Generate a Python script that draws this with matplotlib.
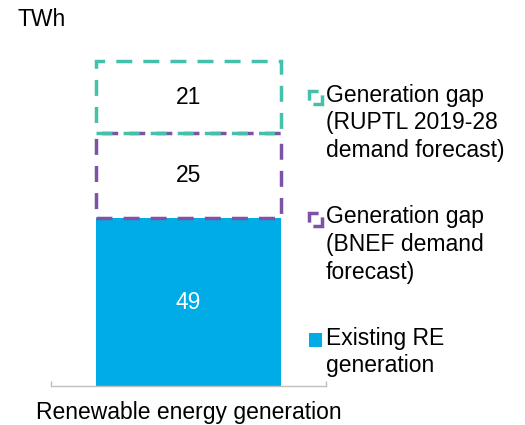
import matplotlib
matplotlib.use("Agg")
import matplotlib.pyplot as plt
from matplotlib.patches import Rectangle

plt.rcParams['font.family'] = ['Liberation Sans', 'DejaVu Sans']
plt.rcParams['lines.scale_dashes'] = False

category = "Renewable energy generation"
existing = 49
gap_bnef = 25
gap_ruptl = 21
unit = "TWh"

legend_labels = [
    "Generation gap\n(RUPTL 2019-28\ndemand forecast)",
    "Generation gap\n(BNEF demand\nforecast)",
    "Existing RE\ngeneration",
]

blue = '#00ACE6'
teal = '#45C1AB'
purple = '#7E52A7'
fs = 16.5
W, H = 525, 425

fig = plt.figure(figsize=(W / 100, H / 100), dpi=100)
ax = fig.add_axes([51 / W, (H - 386) / H, 275 / W, 342 / H])

x = [0]
bw = 0.673
dash = (0, (11.5, 8))
ax.bar(x, [existing], width=bw, color=blue, zorder=2)
ax.bar(x, [gap_bnef], bottom=[existing], width=bw, facecolor='none',
       edgecolor=purple, linewidth=2.5, linestyle=dash, zorder=3)
ax.bar(x, [gap_ruptl], bottom=[existing + gap_bnef], width=bw, facecolor='none',
       edgecolor=teal, linewidth=2.5, linestyle=dash, zorder=4)

ax.text(0, existing / 2, str(existing), ha='center', va='center', color='white', fontsize=fs)
ax.text(0, existing + gap_bnef / 2, str(gap_bnef), ha='center', va='center', color='black', fontsize=fs)
ax.text(0, existing + gap_bnef + gap_ruptl / 2, str(gap_ruptl), ha='center', va='center',
        color='black', fontsize=fs)

ax.set_xlim(-0.5, 0.5)
ax.set_ylim(0, 100)
for s in ['top', 'right', 'left']:
    ax.spines[s].set_visible(False)
ax.spines['bottom'].set_color('#BFBFBF')
ax.spines['bottom'].set_linewidth(1)
ax.set_yticks([])
ax.set_xticks([-0.5, 0.5])
ax.set_xticklabels([])
ax.tick_params(axis='x', which='major', direction='in', length=3.6, color='#BFBFBF', width=1)
ax.set_xticks([0], minor=True)
ax.set_xticklabels([category], minor=True, fontsize=fs)
ax.tick_params(axis='x', which='minor', length=0, pad=10.5)

fig.text(18 / W, 1 - 20 / H, unit, ha='left', va='center', fontsize=fs)

# legend
centers = [97.5, 219.5, 340]
text_mid = [123, 244.5, 352]
colors = [teal, purple, blue]
sq = 13
side_pt = sq * 0.72
corner_dash = (1.7 * side_pt, (1.4 * side_pt, 0.6 * side_pt))
for i, lab in enumerate(legend_labels):
    cx, cy = 315, centers[i]
    if i < 2:
        p = Rectangle(((cx - sq / 2) / W, 1 - (cy + sq / 2) / H), sq / W, sq / H,
                      transform=fig.transFigure, facecolor='none', edgecolor=colors[i],
                      linewidth=2.5, linestyle=corner_dash, joinstyle='miter',
                      capstyle='butt')
    else:
        p = Rectangle(((cx - 6.5) / W, 1 - (cy + 7) / H), 13 / W, 14 / H,
                      transform=fig.transFigure, facecolor=colors[i], edgecolor='none')
    fig.add_artist(p)
    fig.text(326 / W, 1 - text_mid[i] / H, lab, ha='left', va='center', fontsize=fs,
             linespacing=1.25)

fig.savefig('out.png', dpi=100)
